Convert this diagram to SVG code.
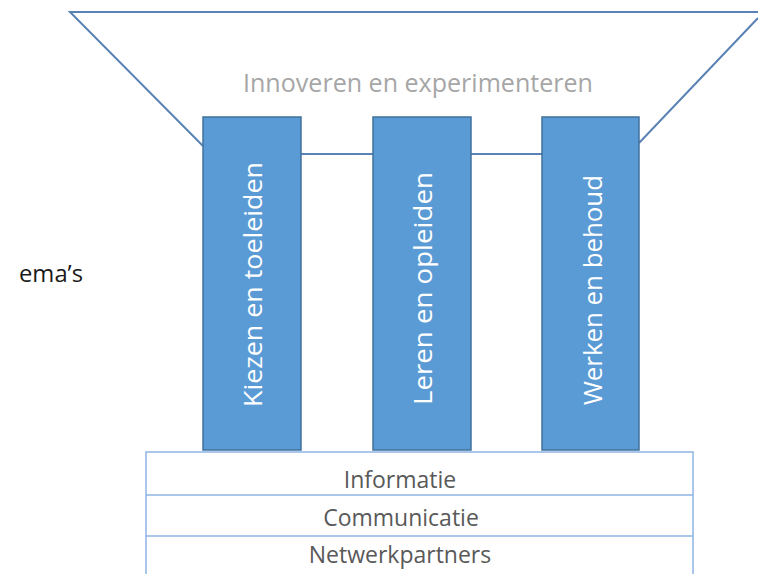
<svg xmlns="http://www.w3.org/2000/svg" width="758" height="574" viewBox="0 0 758 574">
  <style>
    .frame { fill: none; stroke: #5a82b4; stroke-width: 2; }
    .pillar { fill: #5b9bd5; stroke: #41719c; stroke-width: 1.5; }
    .pillar-label { fill: #ffffff; font-family: "Open Sans", "DejaVu Sans", sans-serif; font-size: 25px; }
    .base { fill: #ffffff; stroke: #8eb4e3; stroke-width: 1.5; }
    .base-label { fill: #595959; font-family: "Open Sans", "DejaVu Sans", sans-serif; font-size: 23px; text-anchor: middle; }
    .roof-label { fill: #a6a6a6; font-family: "Open Sans", "DejaVu Sans", sans-serif; font-size: 25px; }
    .side-label { fill: #1a1a1a; font-family: "Open Sans", "DejaVu Sans", sans-serif; font-size: 23px; }
  </style>
  <rect width="758" height="574" fill="#ffffff"/>

  <!-- roof / funnel outline and the links between pillars -->
  <g id="connectors">
    <polyline class="frame" points="203,146 70,12 758,12"/>
    <line class="frame" x1="639" y1="143" x2="758" y2="18"/>
    <line class="frame" x1="301" y1="154" x2="373" y2="154"/>
    <line class="frame" x1="471" y1="154" x2="542" y2="154"/>
  </g>

  <g id="roof">
    <text class="roof-label" x="243" y="92" textLength="350" lengthAdjust="spacingAndGlyphs">Innoveren en experimenteren</text>
  </g>

  <g id="side">
    <text class="side-label" x="19" y="282" textLength="64" lengthAdjust="spacingAndGlyphs">ema’s</text>
  </g>

  <!-- base layers -->
  <g id="base">
    <rect class="base" x="146" y="452" width="547" height="130"/>
    <line class="base" x1="146" y1="495" x2="693" y2="495"/>
    <line class="base" x1="146" y1="536" x2="693" y2="536"/>
    <text class="base-label" x="400" y="488">Informatie</text>
    <text class="base-label" x="401" y="526">Communicatie</text>
    <text class="base-label" x="400" y="563">Netwerkpartners</text>
  </g>

  <!-- pillars -->
  <g id="pillar-kiezen">
    <rect class="pillar" x="203" y="117" width="98" height="333"/>
    <text class="pillar-label" transform="translate(262,407) rotate(-90)" textLength="245" lengthAdjust="spacingAndGlyphs">Kiezen en toeleiden</text>
  </g>
  <g id="pillar-leren">
    <rect class="pillar" x="373" y="117" width="98" height="333"/>
    <text class="pillar-label" transform="translate(432,405) rotate(-90)" textLength="233" lengthAdjust="spacingAndGlyphs">Leren en opleiden</text>
  </g>
  <g id="pillar-werken">
    <rect class="pillar" x="542" y="117" width="97" height="333"/>
    <text class="pillar-label" transform="translate(602,405) rotate(-90)" textLength="230" lengthAdjust="spacingAndGlyphs">Werken en behoud</text>
  </g>
</svg>
